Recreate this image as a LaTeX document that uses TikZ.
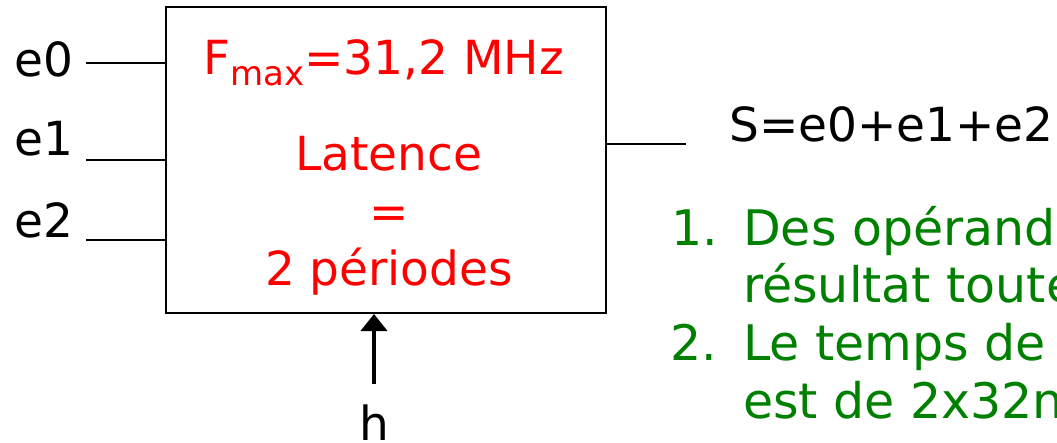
\documentclass[tikz,border=0pt]{standalone}
\usepackage{fontspec}
\setmainfont{DejaVu Sans}
\usetikzlibrary{arrows.meta}
\definecolor{myred}{RGB}{255,0,0}
\definecolor{mygreen}{RGB}{0,128,0}
\tikzset{
  txt/.style={inner sep=0pt, font=\fontsize{47}{56}\selectfont},
  gtxt/.style={inner sep=0pt, mygreen, anchor=base west, font=\fontsize{49}{56}\selectfont},
  wire/.style={line width=2pt, black},
  blockbox/.style={draw, line width=2pt, minimum width=440pt, minimum height=306pt, inner sep=0pt},
}
\begin{document}
\begin{tikzpicture}[x=1pt,y=-1pt]
\useasboundingbox (0,0) rectangle (1057,442);
\clip (0,0) rectangle (1057,442);
\node[blockbox] (box) at (386,160) {};
% inputs
\node[txt, anchor=base west] (le0) at (14,76) {e0};
\node[txt, anchor=base west] (le1) at (14,155) {e1};
\node[txt, anchor=base west] (le2) at (14,237) {e2};
\coordinate (w0) at (86,63);
\coordinate (w1) at (86,160);
\coordinate (w2) at (86,240);
\draw[wire] (w0) -- (box.west |- w0);
\draw[wire] (w1) -- (box.west |- w1);
\draw[wire] (w2) -- (box.west |- w2);
% output
\coordinate (wo) at (686,143.5);
\draw[wire] (box.east |- wo) -- (wo);
\node[txt, anchor=base west] (s) at (729,141) {S=e0+e1+e2};
% clock
\coordinate (hc) at (374,384);
\draw[line width=4pt, -{Triangle[width=26pt,length=17pt]}] (hc) -- (box.south -| hc);
\node[txt, anchor=base] (h) at (374,440) {h};
% red text
\node[txt, myred, anchor=base west] (fmax) at (203,74) {F\raisebox{-11pt}{\fontsize{34}{36}\selectfont max}=31,2 MHz};
\node[txt, myred, anchor=base] (lat) at (389,170) {Latence};
\node[txt, myred, anchor=base] (eq) at (389,228) {=};
\node[txt, myred, anchor=base] (per) at (389,285) {2 périodes};
% green list
\node[gtxt] (n1) at (671,245) {1.};
\node[gtxt] (t1a) at (743,245) {Des opérandes};
\node[gtxt] (t1b) at (743,302) {résultat toutes};
\node[gtxt] (n2) at (670,360) {2.};
\node[gtxt] (t2a) at (743,360) {Le temps de c};
\node[gtxt] (t2b) at (743,418) {est de 2x32ns};
\end{tikzpicture}
\end{document}
